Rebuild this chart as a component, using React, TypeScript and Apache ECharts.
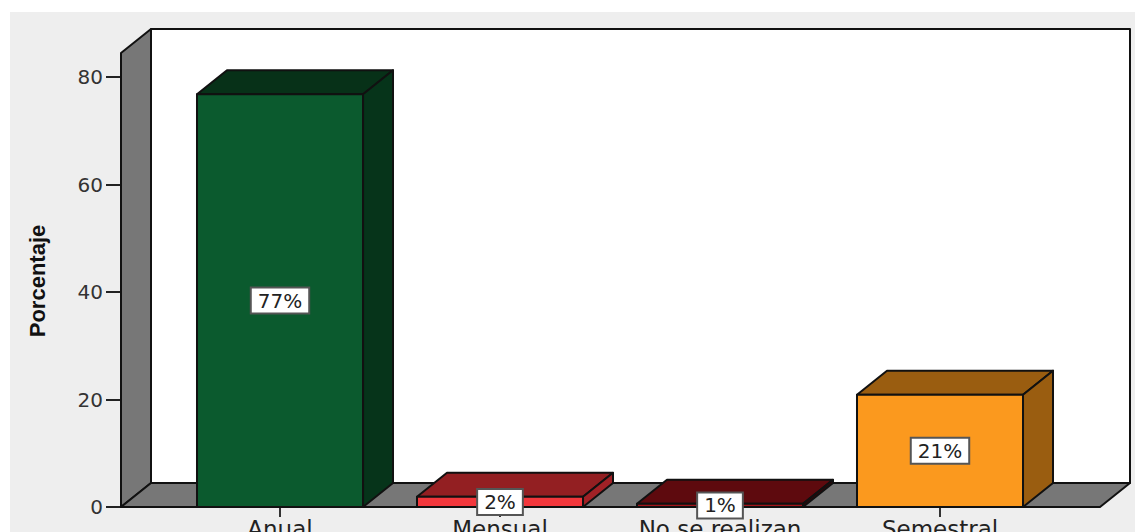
import React, { useEffect, useRef } from "react";
import * as echarts from "echarts";

const categories = ["Anual", "Mensual", "No se realizan", "Semestral"];
const percentages = [76.8, 1.9, 0.6, 20.9];
const valueLabels = ["77%", "2%", "1%", "21%"];
const yTicks = { min: 0, max: 80, interval: 20 };
const yTitle = "Porcentaje";

const frontColors = ["#0B5A2E", "#F2373C", "#A3141A", "#FB991E"];
const topColors = ["#073118", "#931F22", "#5E0A0E", "#9A5D10"];
const sideColors = ["#06341A", "#A12126", "#3A0406", "#9A5D10"];

const DEPTH_X = 30;
const DEPTH_Y = 24;
const WALL = "#777777";
const INK = "#111111";
const FONT = '"DejaVu Sans"';

function poly(points: number[][], fill: string) {
  return {
    type: "polygon",
    shape: { points },
    style: { fill, stroke: INK, lineWidth: 2, lineJoin: "round" },
  };
}

function renderWalls(params: any) {
  const c = params.coordSys;
  const l = c.x - 49;
  const r = c.x + c.width + 50;
  const b = c.y + c.height;
  const t = c.y - 24;
  return {
    type: "group",
    children: [
      poly([[l + DEPTH_X, t - DEPTH_Y], [r + DEPTH_X, t - DEPTH_Y], [r + DEPTH_X, b - DEPTH_Y], [l + DEPTH_X, b - DEPTH_Y]], "#FFFFFF"),
      poly([[l, t], [l + DEPTH_X, t - DEPTH_Y], [l + DEPTH_X, b - DEPTH_Y], [l, b]], WALL),
      poly([[l, b], [l + DEPTH_X, b - DEPTH_Y], [r + DEPTH_X, b - DEPTH_Y], [r, b]], WALL),
    ],
  };
}

function renderBar(params: any, api: any) {
  const i = params.dataIndex;
  const [cx, yTop] = api.coord([api.value(0), api.value(1)]);
  const [, y0] = api.coord([api.value(0), 0]);
  const half = api.size([1, 0])[0] * 0.3773;
  const l = cx - half;
  const r = cx + half;
  return {
    type: "group",
    children: [
      poly([[l, yTop], [l + DEPTH_X, yTop - DEPTH_Y], [r + DEPTH_X, yTop - DEPTH_Y], [r, yTop]], topColors[i]),
      poly([[r, yTop], [r + DEPTH_X, yTop - DEPTH_Y], [r + DEPTH_X, y0 - DEPTH_Y], [r, y0]], sideColors[i]),
      poly([[l, yTop], [r, yTop], [r, y0], [l, y0]], frontColors[i]),
      {
        type: "text",
        z2: 10,
        style: {
          text: valueLabels[i],
          x: cx,
          y: (yTop + y0) / 2,
          align: "center",
          verticalAlign: "middle",
          font: `20px ${FONT}`,
          fill: "#222222",
          backgroundColor: "#FFFFFF",
          borderColor: "#555555",
          borderWidth: 2,
          padding: [2, 6, 2, 6],
        },
      },
    ],
  };
}

export default function App() {
  const ref = useRef<HTMLDivElement>(null);
  useEffect(() => {
    const chart = echarts.init(ref.current!, null, { renderer: "svg" });
    chart.setOption({
      animation: false,
      backgroundColor: "#FFFFFF",
      graphic: [
        { type: "rect", z: -10, shape: { x: 10, y: 12, width: 1125, height: 520 }, style: { fill: "#EEEEEE" } },
      ],
      grid: { left: 170, width: 880, top: 77, bottom: 25, outerBoundsMode: "none" },
      xAxis: {
        type: "category",
        data: categories,
        axisLine: { show: false },
        axisTick: { show: true, alignWithLabel: true, length: 10, lineStyle: { color: "#333333", width: 2 } },
        axisLabel: { color: "#222222", fontFamily: FONT, fontSize: 23, margin: 10 },
      },
      yAxis: {
        type: "value",
        min: yTicks.min,
        max: yTicks.max,
        interval: yTicks.interval,
        offset: 49,
        splitLine: { show: false },
        axisLine: { show: false },
        axisTick: { show: true, length: 15, lineStyle: { color: "#222222", width: 2 } },
        axisLabel: { color: "#333333", fontFamily: FONT, fontSize: 20, margin: 18 },
        name: yTitle,
        nameLocation: "middle",
        nameGap: 73,
        nameTextStyle: {
          color: "#111111",
          fontFamily: '"Liberation Sans"',
          fontWeight: "bold",
          fontSize: 22,
          padding: [0, 0, 0, 22],
        },
      },
      series: [
        {
          type: "custom",
          z: 1,
          silent: true,
          data: [0],
          encode: { x: [], y: [] },
          renderItem: renderWalls,
        },
        {
          type: "custom",
          z: 2,
          encode: { x: 0, y: 1 },
          data: categories.map((_, i) => [i, percentages[i]]),
          renderItem: renderBar,
        },
      ],
    });
    return () => chart.dispose();
  }, []);
  return <div ref={ref} style={{ position: "absolute", left: 0, top: 0, width: 1135, height: 532 }} />;
}
